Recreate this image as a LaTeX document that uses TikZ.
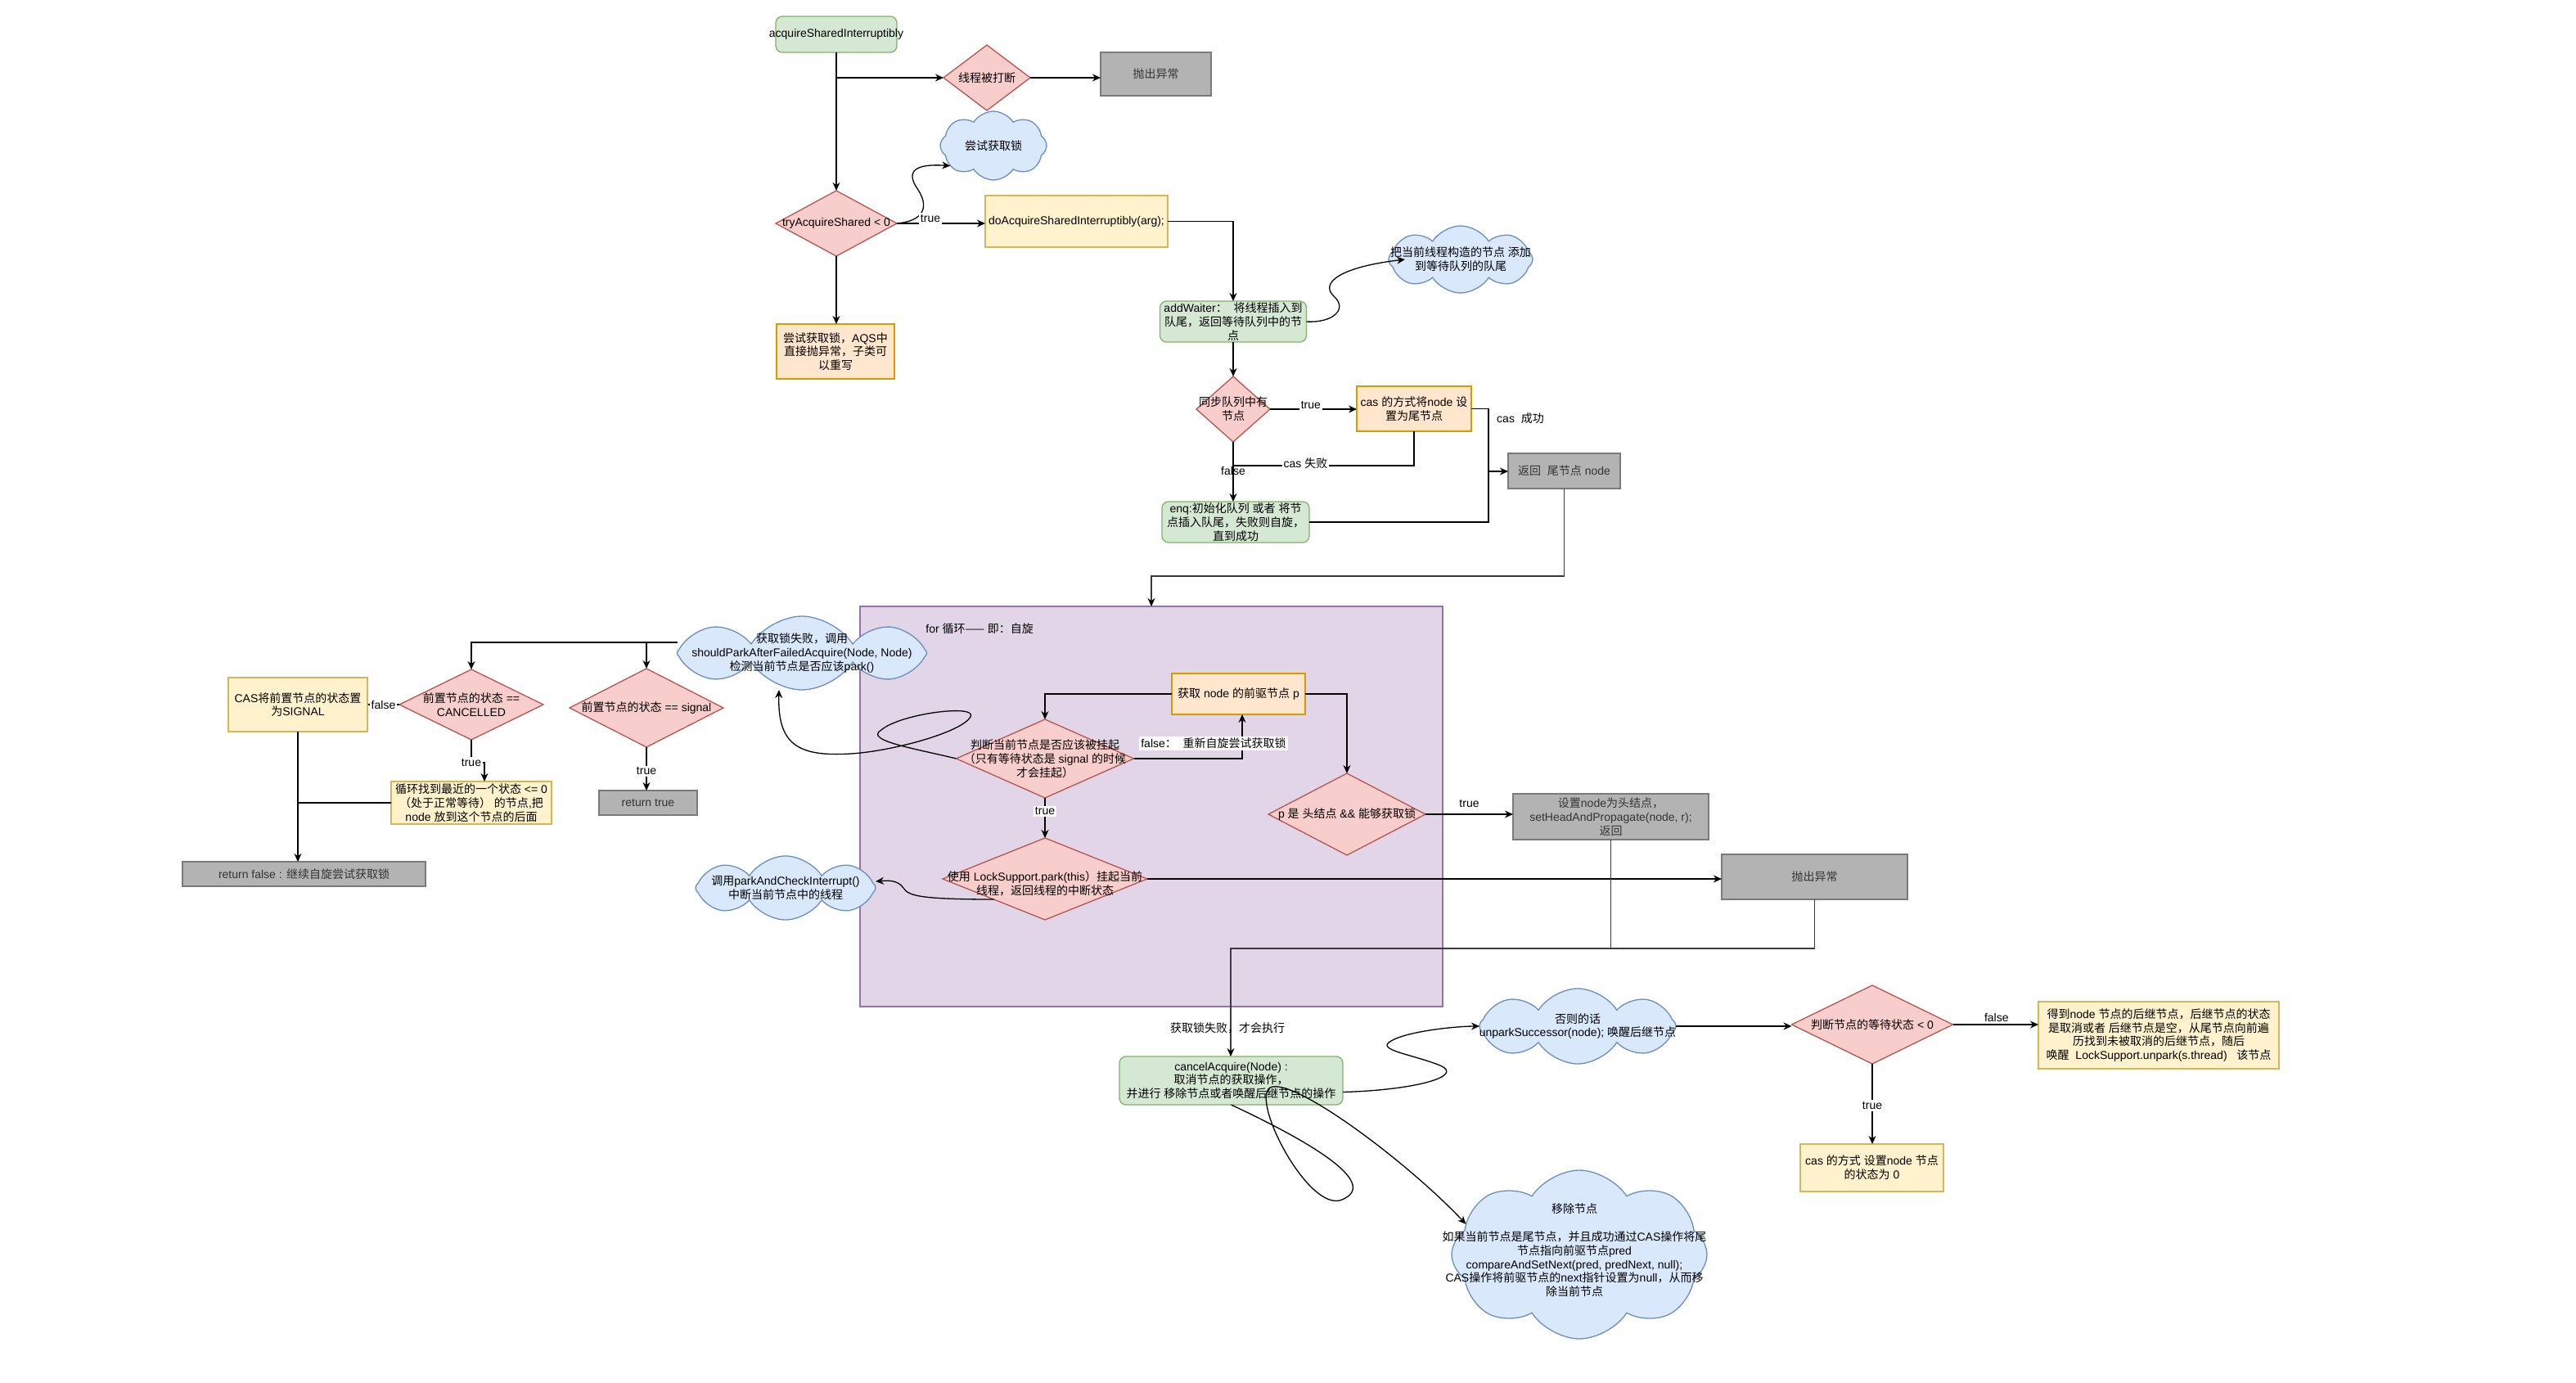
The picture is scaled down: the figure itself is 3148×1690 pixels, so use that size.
\documentclass[tikz,border=0pt]{standalone}
\usepackage{fontspec}
\setmainfont{Liberation Sans}
\newfontfamily\cjkf{Noto Sans CJK SC}
\usetikzlibrary{shapes.geometric,shapes.symbols,arrows.meta}
\XeTeXinterchartokenstate=1
\newXeTeXintercharclass\mycjk
\newcount\mycnt
\def\setcjkrange#1#2{\mycnt=#1\relax\loop\XeTeXcharclass\mycnt=\mycjk\relax\ifnum\mycnt<#2\relax\advance\mycnt by 1\relax\repeat}
\setcjkrange{"4E00}{"9FFF}
\setcjkrange{"3000}{"303F}
\setcjkrange{"FF00}{"FFEF}
\XeTeXcharclass"2014=\mycjk
\XeTeXinterchartoks 0 \mycjk={\begingroup\cjkf}
\XeTeXinterchartoks 4095 \mycjk={\begingroup\cjkf}
\XeTeXinterchartoks \mycjk 0={\endgroup}
\XeTeXinterchartoks \mycjk 4095={\endgroup}
\newcommand\myfs{\fontsize{7}{8.4}\selectfont}
\definecolor{cGrn}{HTML}{D5E8D4}\definecolor{cGrnD}{HTML}{82B366}
\definecolor{cRed}{HTML}{F8CECC}\definecolor{cRedD}{HTML}{B85450}
\definecolor{cGry}{HTML}{B3B3B3}\definecolor{cGryD}{HTML}{7A7A7A}
\definecolor{cYlw}{HTML}{FFF2CC}\definecolor{cYlwD}{HTML}{D6B656}
\definecolor{cOrg}{HTML}{FFE6CC}\definecolor{cOrgD}{HTML}{D79B00}
\definecolor{cBlu}{HTML}{DAE8FC}\definecolor{cBluD}{HTML}{6C8EBF}
\definecolor{cPur}{HTML}{E1D5E7}\definecolor{cPurD}{HTML}{9673A6}
\definecolor{cTxtG}{HTML}{333333}\definecolor{cLnG}{HTML}{3A3A3A}
\tikzset{
 base/.style={line width=0.65pt, inner sep=0pt, outer sep=0pt},
 sz/.style 2 args={minimum width={#1*0.5pt}, minimum height={#2*0.5pt}},
 lbl/.style={font=\myfs, align=center, inner sep=0pt, text=black},
 t/.style={label={[lbl]center:{#1}}},
 tg/.style={label={[lbl,text=cTxtG]center:{#1}}},
 grn/.style={base, rectangle, rounded corners=4pt, draw=cGrnD, fill=cGrn},
 red/.style={base, diamond, draw=cRedD, fill=cRed},
 gry/.style={base, rectangle, draw=cGryD, fill=cGry},
 ylw/.style={base, rectangle, draw=cYlwD, fill=cYlw},
 org/.style={base, rectangle, draw=cOrgD, fill=cOrg},
 pur/.style={base, rectangle, draw=cPurD, fill=cPur},
 cld/.style={base, cloud, cloud puffs=8, cloud puff arc=115, cloud ignores aspect, draw=cBluD, fill=cBlu},
 ln/.style={line width=0.65pt, black},
 arr/.style={ln, -{Stealth[length=5pt,width=4.5pt]}},
 gln/.style={line width=0.7pt, cLnG},
 garr/.style={gln, -{Stealth[length=5pt,width=4.5pt,color=black]}},
 elbl/.style={font=\myfs, fill=white, inner sep=1pt, text=black},
 elbln/.style={font=\myfs, inner sep=1pt, text=black},
}
\begin{document}
\begin{tikzpicture}[x=0.5pt,y=-0.5pt]
\useasboundingbox (0,0) rectangle (3148,1690);
\fill[white] (0,0) rectangle (3148,1690);

% ---------- top part ----------
\node[grn, sz={148}{44}, t={acquireSharedInterruptibly}] (start) at (1022,42) {};
\node[red, sz={106}{80}, t={线程被打断}] (intr) at (1206,95) {};
\node[gry, sz={135}{53}, tg={抛出异常}] (exc1) at (1412.5,90.5) {};
\node[cld, sz={130}{84}, t={尝试获取锁}] (cloud1) at (1214,178) {};
\node[red, sz={148}{80}, t={tryAcquireShared < 0}] (try) at (1022,273) {};
\node[org, sz={144}{67}, t={尝试获取锁，AQS中\\直接抛异常，子类可\\以重写}] (aqs) at (1021,429.5) {};
\node[ylw, sz={223}{63}, t={doAcquireSharedInterruptibly(arg);}] (doacq) at (1315.5,270.5) {};
\node[grn, sz={179}{50}, t={addWaiter：\ \ 将线程插入到\\队尾，返回等待队列中的节\\点}] (addw) at (1507,393) {};
\node[cld, sz={176}{82}, t={把当前线程构造的节点 添加\\到等待队列的队尾}] (cloud2) at (1785,317) {};
\node[red, sz={90}{80}, t={同步队列中有\\节点}] (sync) at (1507,500) {};
\node[org, sz={140}{55}, t={cas 的方式将node 设\\置为尾节点}] (casT) at (1728,499.5) {};
\node[grn, sz={180}{50}, t={enq:初始化队列 或者 将节\\点插入队尾，失败则自旋，\\直到成功}] (enq) at (1510,638) {};
\node[gry, sz={137}{43}, tg={返回\ \ 尾节点 node}] (ret) at (1911.5,575.5) {};

% ---------- loop container ----------
\node[pur, sz={712}{489}] (loopbox) at (1407,985.5) {};
\node[elbln, anchor=west] (fortxt) at (1129,768) {for 循环—— 即：自旋};
\node[org, sz={163}{50}, t={获取 node 的前驱节点 p}] (pre) at (1513.5,848) {};
\node[red, sz={217}{96}, t={判断当前节点是否应该被挂起\\（只有等待状态是 signal 的时候\\才会挂起）}] (judge) at (1277,927) {};
\node[red, sz={192}{100}, t={p 是 头结点 \&\& 能够获取锁}] (head) at (1646,995) {};
\node[red, sz={250}{100}, label={[lbl,yshift=-3pt]center:{使用 LockSupport.park(this）挂起当前\\线程，返回线程的中断状态}}] (park) at (1277,1074) {};
\node[cld, sz={305}{90}, t={获取锁失败，调用\\shouldParkAfterFailedAcquire(Node, Node)\\检测当前节点是否应该park()}] (cloud3) at (980,798) {};
\node[cld, sz={220}{78}, t={调用parkAndCheckInterrupt()\\中断当前节点中的线程}] (cloud4) at (960,1085) {};
\node[gry, sz={239}{56}, tg={设置node为头结点，\\setHeadAndPropagate(node, r);\\返回}] (setH) at (1968.5,998) {};
\node[gry, sz={227}{55}, tg={抛出异常}] (exc2) at (2217.5,1071.5) {};

% ---------- left part ----------
\node[ylw, sz={170}{66}, t={CAS将前置节点的状态置\\为SIGNAL}] (casSig) at (364,861) {};
\node[red, sz={176}{86}, t={前置节点的状态 ==\\CANCELLED}] (canc) at (576,861) {};
\node[red, sz={188}{96}, t={前置节点的状态 == signal}] (sig) at (790,865) {};
\node[ylw, sz={196}{52}, t={循环找到最近的一个状态 <= 0\\（处于正常等待） 的节点,把\\node 放到这个节点的后面}] (loopF) at (576,981) {};
\node[gry, sz={120}{30}, tg={return true}] (rtrue) at (792,981) {};
\node[gry, sz={297}{30}, tg={return false : 继续自旋尝试获取锁}] (rfalse) at (371.5,1068) {};

% ---------- bottom part ----------
\node[grn, sz={273}{59}, t={cancelAcquire(Node) :\\取消节点的获取操作，\\并进行 移除节点或者唤醒后继节点的操作}] (cancel) at (1504.5,1320.5) {};
\node[cld, sz={240}{92}, t={否则的话\\unparkSuccessor(node); 唤醒后继节点}] (cloud5) at (1928,1254) {};
\node[cld, sz={312}{206}, label={[lbl,xshift=-3pt,yshift=2.5pt]center:{移除节点\\[8.4pt]如果当前节点是尾节点，并且成功通过CAS操作将尾\\节点指向前驱节点pred\\compareAndSetNext(pred, predNext, null);\\CAS操作将前驱节点的next指针设置为null，从而移\\除当前节点}}] (cloud6) at (1930,1533) {};
\node[red, sz={197}{96}, t={判断节点的等待状态 < 0}] (wait) at (2288,1252) {};
\node[ylw, sz={294}{82}, t={得到node 节点的后继节点，后继节点的状态\\是取消或者 后继节点是空，从尾节点向前遍\\历找到未被取消的后继节点，随后\\唤醒\ \ LockSupport.unpark(s.thread)\ \ \ 该节点}] (succ) at (2638,1265) {};
\node[ylw, sz={175}{58}, t={cas 的方式 设置node 节点\\的状态为 0}] (cas0) at (2287.5,1427) {};

% ---------- connectors: top ----------
\draw[arr] (start.south) -- (try.north);
\draw[arr] (start.south) |- (intr.west);
\draw[arr] (intr.east) -- (intr.east -| exc1.west);
\draw[arr] (try.east) .. controls (1130,270) and (1135,252) .. (1122,232) .. controls (1105,208) and (1120,200) .. (cloud1.205);
\draw[arr] (try.east) -- node[elbl,pos=0.38,yshift=3pt]{true} (try.east -| doacq.west);
\draw[arr] (try.south) -- (try.south |- aqs.north);
\draw[arr] (doacq.east) -| (addw.north);
\draw[arr] (addw.east) .. controls (1628,395) and (1648,378) .. (1630,362) .. controls (1612,345) and (1640,326) .. ([xshift=10pt]cloud2.west);
\draw[arr] (addw.south) -- (sync.north);
\draw[arr] (sync.east) -- node[elbl,pos=0.47,yshift=2.5pt]{true} (sync.east -| casT.west);
\coordinate (j1) at (1507,569);
\draw[ln] (casT.south) |- node[elbl,pos=0.8,yshift=1.5pt]{cas 失败} (j1);
\draw[arr] (sync.south) -- node[elbln,pos=0.49]{false} (sync.south |- enq.north);
\coordinate (j2) at (1819,576);
\draw[arr] (casT.east) -| node[elbln,pos=0.5,xshift=19.5pt,yshift=-6pt]{cas\ \ 成功} (j2) -- (j2 -| ret.west);
\draw[ln] (enq.east) -| (j2);
\coordinate (j3) at (1407,704);
\draw[garr] (ret.south) |- (j3) -- (j3 |- loopbox.north);

% ---------- connectors: loop ----------
\draw[arr] (pre.west) -| (judge.north);
\draw[arr] (pre.east) -| (head.north);
\draw[arr] (judge.east) -| node[elbl,pos=0.75,xshift=-17.5pt,yshift=-4pt]{false：\ \ 重新自旋尝试获取锁} ([xshift=2.25pt]pre.south);
\draw[arr] (judge.south) -- node[elbl,pos=0.33]{true} (park.north);
\draw[arr] (judge.west) .. controls (1120,915) and (1055,905) .. (1077,892) .. controls (1100,872) and (1195,860) .. (1186,876) .. controls (1175,895) and (1090,918) .. (1040,921) .. controls (975,925) and (950,910) .. ([xshift=-14pt]cloud3.south);
\draw[arr] (park.south west) .. controls (1120,1099) and (1110,1094) .. (1104,1085) .. controls (1097,1075) and (1085,1076) .. ([yshift=4pt]cloud4.east);
\draw[arr] (park.east) -- (park.east -| exc2.west);
\draw[arr] (head.east) -- node[elbln,pos=0.5,yshift=6.5pt]{true} (head.east -| setH.west);
\coordinate (j4) at (1504,1159);
\draw[gln] (setH.south) -- (setH.south |- j4);
\draw[garr] (exc2.south) |- (j4) -- node[elbln,pos=0.735,xshift=-2pt]{获取锁失败，才会执行} (j4 |- cancel.north);

% ---------- connectors: left ----------
\draw[arr] ([yshift=6.5pt]cloud3.west) -| (canc.north);
\draw[arr] ([yshift=6.5pt]cloud3.west) -| (sig.north);
\draw[arr] (canc.west) -- node[elbl,pos=0.5]{false} (canc.west -| casSig.east);
\draw[arr] (canc.south) -- ++(0,28) node[elbl]{true} -| ([xshift=8pt]loopF.north);
\draw[ln] (loopF.west) -- (loopF.west -| casSig.south);
\draw[arr] (casSig.south) -- (casSig.south |- rfalse.north);
\draw[arr] (sig.south) -- node[elbl,pos=0.55]{true} (sig.south |- rtrue.north);

% ---------- connectors: bottom ----------
\draw[arr] ([yshift=-7pt]cancel.east) .. controls (1730,1332) and (1790,1315) .. (1760,1302) .. controls (1725,1288) and (1680,1283) .. (1700,1272) .. controls (1720,1260) and (1780,1254) .. (cloud5.west);
\draw[arr] (cancel.south) .. controls (1590,1390) and (1690,1445) .. (1640,1466) .. controls (1600,1483) and (1528,1345) .. (1552,1329) .. controls (1580,1315) and (1720,1420) .. (cloud6.165);
\draw[arr] (cloud5.east) -- (cloud5.east -| wait.west);
\draw[arr] (wait.east) -- node[elbln,pos=0.51,yshift=4.5pt]{false} (wait.east -| succ.west);
\draw[arr] (wait.south) -- node[elbl,pos=0.52]{true} (wait.south |- cas0.north);
\end{tikzpicture}
\end{document}
